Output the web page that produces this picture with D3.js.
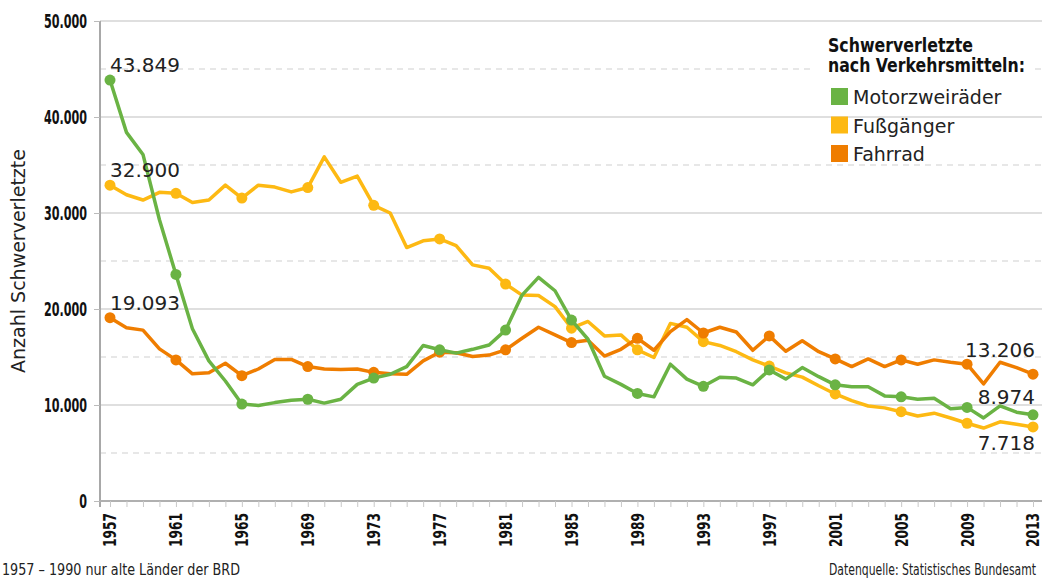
<!DOCTYPE html>
<html>
<head>
<meta charset="utf-8">
<script src="https://cdn.jsdelivr.net/npm/d3@7/dist/d3.min.js"></script>
<style>
  body { margin: 0; background: #fff; }
  .cond { font-family: "DejaVu Sans Condensed", "DejaVu Sans", sans-serif; }
  .plain { font-family: "DejaVu Sans", sans-serif; }
</style>
</head>
<body>
<div class="chart"></div>
<script>
const years = d3.range(1957, 2014);

const motorzweiraeder = [43849, 38400, 36100, 29300, 23600, 17950, 14600, 12500, 10100, 9950,
  10250, 10500, 10600, 10200, 10600, 12150, 12800, 13200, 14000, 16200,
  15750, 15400, 15800, 16250, 17800, 21450, 23300, 21900, 18850, 16850,
  13000, 12150, 11200, 10850, 14250, 12700, 11950, 12900, 12800, 12100,
  13650, 12700, 13900, 12950, 12100, 11900, 11900, 10950, 10850, 10600,
  10700, 9600, 9750, 8650, 9900, 9250, 8974];

const fussgaenger = [32900, 31900, 31350, 32150, 32050, 31100, 31350, 32900, 31550, 32900,
  32700, 32200, 32650, 35850, 33200, 33850, 30800, 30000, 26400, 27100,
  27300, 26600, 24600, 24250, 22600, 21450, 21400, 20250, 18000, 18700,
  17200, 17300, 15750, 14950, 18500, 18100, 16600, 16200, 15550, 14700,
  14050, 13350, 12900, 12000, 11150, 10450, 9900, 9700, 9300, 8850,
  9150, 8650, 8100, 7600, 8250, 8000, 7718];

const fahrrad = [19093, 18050, 17800, 15850, 14700, 13250, 13350, 14350, 13050, 13750,
  14750, 14750, 14000, 13750, 13700, 13750, 13400, 13250, 13200, 14600,
  15500, 15450, 15050, 15200, 15750, 16950, 18100, 17300, 16500, 16750,
  15100, 15800, 16950, 15700, 17650, 18900, 17500, 18100, 17600, 15700,
  17200, 15600, 16700, 15550, 14800, 14000, 14800, 14000, 14700, 14250,
  14700, 14450, 14250, 12200, 14450, 13900, 13206];

const seriesNames = ['Motorzweiräder', 'Fußgänger', 'Fahrrad'];
const yTickValues = [0, 10000, 20000, 30000, 40000, 50000];
const yDashValues = [5000, 15000, 25000, 35000, 45000];
const xLabelYears = d3.range(1957, 2014, 4);

const colors = { 'Motorzweiräder': '#6ab344', 'Fußgänger': '#fdb913', 'Fahrrad': '#ef7d00' };
const series = [
  { name: 'Fußgänger', values: fussgaenger },
  { name: 'Fahrrad', values: fahrrad },
  { name: 'Motorzweiräder', values: motorzweiraeder }
];

const W = 1042, H = 579;
const svg = d3.select('.chart').append('svg')
  .attr('width', W)
  .attr('height', H);

const xScale = d3.scaleLinear().domain([1957, 2013]).range([110, 1033]);
const yScale = d3.scaleLinear().domain([0, 50000]).range([501, 21]);
const fmt = d => d3.format(',')(d).replace(/,/g, '.');

// squeeze text horizontally (condensed look)
function squeeze(sel, factor) {
  sel.each(function () {
    const len = this.getComputedTextLength();
    if (len > 0) d3.select(this).attr('textLength', len * factor).attr('lengthAdjust', 'spacingAndGlyphs');
  });
}

// grid lines------------------------------
svg.selectAll('.grid-line')
  .data(yTickValues.slice(1))
  .enter().append('line')
  .attr('x1', 100).attr('x2', W)
  .attr('y1', d => yScale(d)).attr('y2', d => yScale(d))
  .attr('stroke', '#d4d4d4').attr('stroke-width', 1.5);

svg.selectAll('.dash-line')
  .data(yDashValues)
  .enter().append('line')
  .attr('x1', 100).attr('x2', W)
  .attr('y1', d => yScale(d)).attr('y2', d => yScale(d))
  .attr('stroke', '#d0d0d0').attr('stroke-width', 1.2)
  .attr('stroke-dasharray', '6,5');

// Y axis----------------------------------
const yAxis = svg.append('g')
  .attr('transform', 'translate(100,0)')
  .call(d3.axisLeft(yScale).tickValues(yTickValues).tickFormat(fmt).tickSize(6).tickPadding(7));
yAxis.select('.domain').attr('stroke', '#a8a8a8').attr('stroke-width', 2)
  .attr('d', `M0,${yScale(50000)}V${yScale(0) + 6}`);
yAxis.selectAll('line').attr('stroke', '#bbb');
yAxis.selectAll('text')
  .attr('class', 'cond')
  .attr('font-size', 20).attr('font-weight', 'bold').attr('fill', '#111')
  .call(squeeze, 0.62);

// X axis----------------------------------
const xAxis = svg.append('g')
  .attr('transform', `translate(0,${yScale(0)})`)
  .call(d3.axisBottom(xScale).tickValues(years).tickFormat(d => xLabelYears.includes(d) ? d : '').tickSize(6));
xAxis.select('.domain').attr('stroke', '#b0b0b0').attr('stroke-width', 2)
  .attr('d', `M100,0H${W}`);
xAxis.selectAll('line').attr('stroke', '#c8c8c8');
xAxis.selectAll('text')
  .attr('class', 'cond')
  .attr('font-size', 17).attr('font-weight', 'bold').attr('fill', '#111')
  .attr('transform', 'rotate(-90)')
  .attr('text-anchor', 'end')
  .attr('x', -12).attr('y', 0).attr('dy', '0.35em')
  .call(squeeze, 0.8);

// lines-----------------------------------
const line = d3.line()
  .x((d, i) => xScale(years[i]))
  .y(d => yScale(d));

series.forEach(s => {
  svg.append('path')
    .datum(s.values)
    .attr('fill', 'none')
    .attr('stroke', colors[s.name])
    .attr('stroke-width', 3.5)
    .attr('stroke-linejoin', 'round')
    .attr('d', line);
  svg.selectAll(null)
    .data(years.filter(y => xLabelYears.includes(y)))
    .enter().append('circle')
    .attr('cx', d => xScale(d))
    .attr('cy', d => yScale(s.values[d - 1957]))
    .attr('r', 5.5)
    .attr('fill', colors[s.name]);
});

// value labels----------------------------
const first = [motorzweiraeder[0], fussgaenger[0], fahrrad[0]];
svg.selectAll('.first-label')
  .data(first)
  .enter().append('text')
  .attr('class', 'plain')
  .attr('x', 110)
  .attr('y', d => yScale(d) - 8)
  .attr('font-size', 20)
  .attr('fill', '#222')
  .text(fmt);

const last = [fahrrad[56], motorzweiraeder[56], fussgaenger[56]];
const lastOffset = [-17, -11, 23];
svg.selectAll('.last-label')
  .data(last)
  .enter().append('text')
  .attr('class', 'plain')
  .attr('x', 1035)
  .attr('y', (d, i) => yScale(d) + lastOffset[i])
  .attr('text-anchor', 'end')
  .attr('font-size', 20)
  .attr('fill', '#222')
  .text(fmt);

// Y axis label
svg.append('text')
  .attr('class', 'plain')
  .attr('transform', 'rotate(-90)')
  .attr('x', -261)
  .attr('y', 25)
  .attr('text-anchor', 'middle')
  .attr('font-size', 19)
  .attr('fill', '#222')
  .text('Anzahl Schwerverletzte');

// legend----------------------------------
const legend = svg.append('g');
legend.append('rect')
  .attr('x', 810).attr('y', 30).attr('width', 222).attr('height', 46)
  .attr('fill', '#fff');
legend.selectAll('.legend-title')
  .data([['Schwerverletzte', 145], ['nach Verkehrsmitteln:', 197]])
  .enter().append('text')
  .attr('class', 'cond')
  .attr('x', 828).attr('y', (d, i) => 52 + i * 20)
  .attr('font-size', 19).attr('font-weight', 'bold').attr('fill', '#111')
  .attr('textLength', d => d[1]).attr('lengthAdjust', 'spacingAndGlyphs')
  .text(d => d[0]);

const items = legend.selectAll('.item')
  .data(seriesNames)
  .enter().append('g')
  .attr('transform', (d, i) => `translate(831,${88 + i * 28.5})`);
items.append('rect')
  .attr('width', 17).attr('height', 17)
  .attr('fill', d => colors[d]);
items.append('text')
  .attr('class', 'plain')
  .attr('x', 22).attr('y', 16)
  .attr('font-size', 19).attr('fill', '#222')
  .text(d => d);

// footer
svg.append('text')
  .attr('class', 'cond')
  .attr('x', 2).attr('y', 575)
  .attr('font-size', 15).attr('fill', '#222')
  .attr('textLength', 238).attr('lengthAdjust', 'spacingAndGlyphs')
  .text('1957 – 1990 nur alte Länder der BRD');
svg.append('text')
  .attr('class', 'cond')
  .attr('x', 1036).attr('y', 575)
  .attr('text-anchor', 'end')
  .attr('font-size', 15).attr('fill', '#222')
  .attr('textLength', 207).attr('lengthAdjust', 'spacingAndGlyphs')
  .text('Datenquelle: Statistisches Bundesamt');
</script>
</body>
</html>
